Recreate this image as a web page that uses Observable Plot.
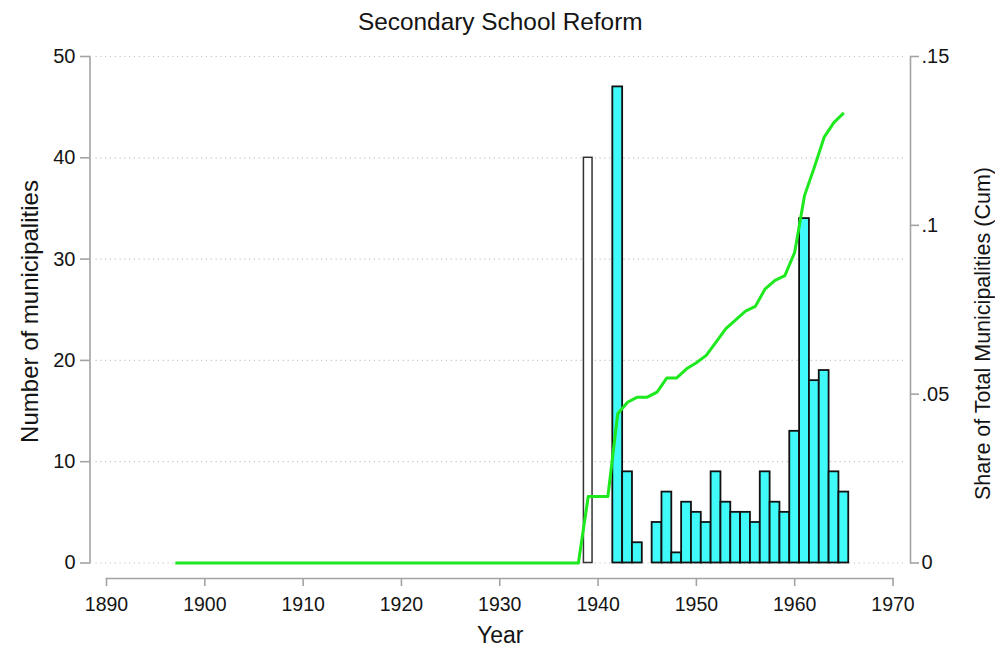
<!DOCTYPE html>
<html>
<head>
<meta charset="utf-8">
<script src="https://cdn.jsdelivr.net/npm/d3@7"></script>
<script src="https://cdn.jsdelivr.net/npm/@observablehq/plot@0.6"></script>
<style>
  html, body { margin: 0; padding: 0; background: #fff; }
  #chart svg { display: block; }
</style>
</head>
<body>
<div id="chart"></div>
<script>
// ---- data ----
const titleText = "Secondary School Reform";
const xLabel = "Year";
const yLabelLeft = "Number of municipalities";
const yLabelRight = "Share of Total Municipalities (Cum)";

const xTicks = [1890, 1900, 1910, 1920, 1930, 1940, 1950, 1960, 1970];
const yTicks = [0, 10, 20, 30, 40, 50];
const shareTicks = [0, 0.05, 0.1, 0.15];
const shareTickLabels = ["0", ".05", ".1", ".15"];

const whiteYears = [1939];
const whiteCounts = [40];

const cyanYears = [1942, 1943, 1944, 1946, 1947, 1948, 1949, 1950, 1951, 1952, 1953,
  1954, 1955, 1956, 1957, 1958, 1959, 1960, 1961, 1962, 1963, 1964, 1965];
const cyanCounts = [47, 9, 2, 4, 7, 1, 6, 5, 4, 9, 6, 5, 5, 4, 9, 6, 5, 13, 34, 18, 19, 9, 7];

const lineYears = [1897, 1938, 1939, 1940, 1941, 1942, 1943, 1944, 1945, 1946, 1947,
  1948, 1949, 1950, 1951, 1952, 1953, 1954, 1955, 1956, 1957, 1958, 1959, 1960,
  1961, 1962, 1963, 1964, 1965];
const lineShares = [0, 0, 0.0197, 0.0197, 0.0197, 0.0442, 0.0476, 0.0491, 0.0491, 0.0506,
  0.0548, 0.0548, 0.0575, 0.0593, 0.0615, 0.0654, 0.0694, 0.0720, 0.0746, 0.0760,
  0.0812, 0.0837, 0.0851, 0.0920, 0.1088, 0.1172, 0.1261, 0.1305, 0.1333];

// ---- derived tables ----
const countMax = 50, shareMax = 0.15;
const k = countMax / shareMax; // map share onto the count axis
const whiteBars = whiteYears.map((year, i) => ({year, count: whiteCounts[i]}));
const cyanBars = cyanYears.map((year, i) => ({year, count: cyanCounts[i]}));
const linePts = lineYears.map((year, i) => ({year, share: lineShares[i]}));

const font = "'Liberation Sans', Arial, Helvetica, sans-serif";
const axisGray = "#a3a3a3";
const textColor = "#141414";
const labelOpts = {text: d => d, textAnchor: "middle", lineAnchor: "middle", fill: textColor};

const chart = Plot.plot({
  width: 995,
  height: 652,
  marginLeft: 89.5,
  marginRight: 85,
  marginTop: 56,
  marginBottom: 74,
  style: {fontFamily: font, background: "#fff", color: textColor},
  x: {domain: [1890, 1970], range: [106, 892.5]},
  y: {domain: [0, 50], range: [562.5, 56]},
  marks: [
    // dotted grid
    Plot.ruleY(yTicks, {stroke: "#c4c4c4", strokeWidth: 1.2, strokeDasharray: "1.2,3.6", insetLeft: 6, insetRight: 6}),
    // axis lines
    Plot.frame({anchor: "left", stroke: axisGray, strokeWidth: 1.6, insetBottom: 15.5}),
    Plot.frame({anchor: "right", stroke: axisGray, strokeWidth: 1.6, insetBottom: 15.5}),
    Plot.frame({anchor: "bottom", stroke: axisGray, strokeWidth: 1.6, insetLeft: 16.5, insetRight: 17.5}),
    // bars
    Plot.rectY(whiteBars, {x1: d => d.year - 0.5, x2: d => d.year + 0.5, y: "count", fill: "#ffffff", stroke: "#333333", strokeWidth: 1.5, insetLeft: 0.6, insetRight: 0.6}),
    Plot.rectY(cyanBars, {x1: d => d.year - 0.5, x2: d => d.year + 0.5, y: "count", fill: "#40f9f9", stroke: "#111111", strokeWidth: 1.8}),
    // cumulative share line (right axis)
    Plot.line(linePts, {x: "year", y: d => d.share * k, stroke: "#1ee81e", strokeWidth: 3, strokeLinejoin: "round", strokeLinecap: "butt"}),
    // axes
    Plot.axisY({anchor: "left", ticks: yTicks, tickSize: 9.5, tickPadding: 5, fontSize: 20, stroke: axisGray, strokeWidth: 1.6, fill: textColor, label: null}),
    Plot.axisY({anchor: "right", ticks: shareTicks.map(v => v * k), tickFormat: (d, i) => shareTickLabels[i], tickSize: 8, tickPadding: 3, fontSize: 20, stroke: axisGray, strokeWidth: 1.6, fill: textColor, label: null}),
    Plot.axisX({anchor: "bottom", ticks: xTicks, tickFormat: d => String(d), tickSize: 8, tickPadding: 11, fontSize: 19.5, stroke: axisGray, strokeWidth: 1.6, fill: textColor, label: null}),
    // titles
    Plot.text([titleText], {...labelOpts, frameAnchor: "top", dy: -34, fontSize: 24.4}),
    Plot.text([xLabel], {...labelOpts, frameAnchor: "bottom", dy: 57, fontSize: 23}),
    Plot.text([yLabelLeft], {...labelOpts, frameAnchor: "left", rotate: -90, dx: -59.5, dy: -6, fontSize: 24}),
    Plot.text([yLabelRight], {...labelOpts, frameAnchor: "right", rotate: -90, dx: 73, dy: 16, fontSize: 21.5})
  ]
});
document.getElementById("chart").appendChild(chart);
</script>
</body>
</html>
